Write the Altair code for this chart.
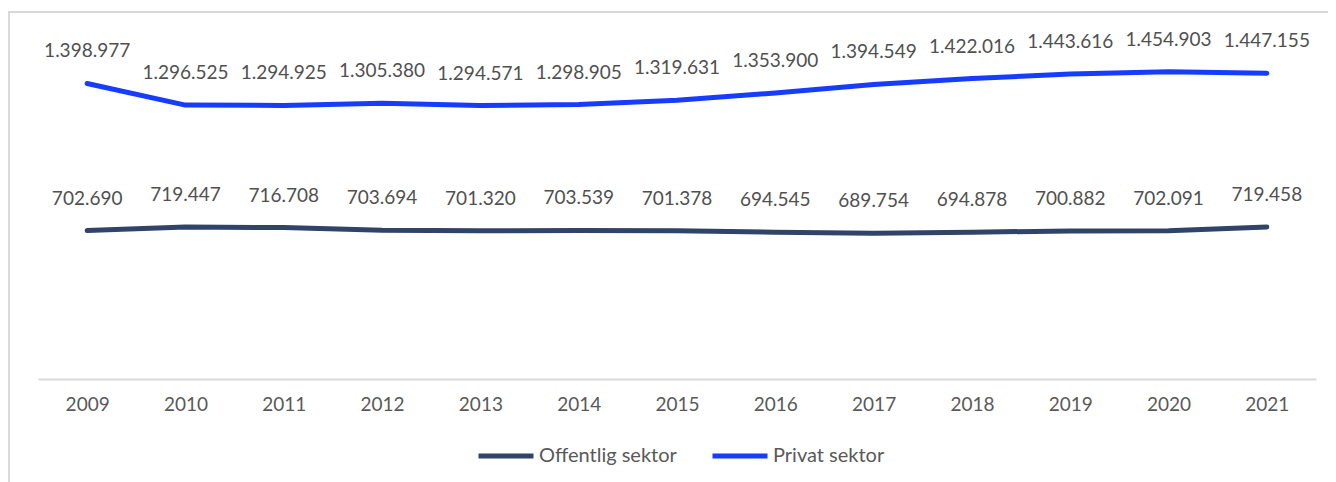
import altair as alt
import pandas as pd

years = ["2009", "2010", "2011", "2012", "2013", "2014", "2015", "2016", "2017", "2018", "2019", "2020", "2021"]
offentlig = [702690, 719447, 716708, 703694, 701320, 703539, 701378, 694545, 689754, 694878, 700882, 702091, 719458]
privat = [1398977, 1296525, 1294925, 1305380, 1294571, 1298905, 1319631, 1353900, 1394549, 1422016, 1443616, 1454903, 1447155]
series_names = ["Offentlig sektor", "Privat sektor"]
series_colors = ["#2f4468", "#163cff"]

rows = []
for name, vals in zip(series_names, [offentlig, privat]):
    for y, v in zip(years, vals):
        rows.append({"year": y, "value": v, "series": name, "label": f"{v:,}".replace(",", ".")})
df = pd.DataFrame(rows)

FONT = "Lato"
W, H = 1278, 338

x_enc = alt.X("year:O", sort=years, scale=alt.Scale(type="point", padding=0.5),
              axis=alt.Axis(title=None, labelAngle=0, ticks=False, domainColor="#d9d9d9", domainWidth=2,
                            labelFontSize=19, labelColor="#595959", labelFont=FONT, labelPadding=16, grid=False))
y_enc = alt.Y("value:Q", scale=alt.Scale(domain=[0, 1600000]), axis=None)

lines = alt.Chart(df).mark_line(strokeWidth=5, strokeCap="round", strokeJoin="round").encode(
    x=x_enc, y=y_enc,
    color=alt.Color("series:N", scale=alt.Scale(domain=series_names, range=series_colors),
                    legend=alt.Legend(title=None, orient="none", direction="horizontal",
                                      legendX=438, legendY=385, symbolType="stroke", symbolSize=3025,
                                      symbolStrokeWidth=5, labelFontSize=20, labelFont=FONT,
                                      labelColor="#595959", columnPadding=25, labelOffset=3)),
)

labels = alt.Chart(df).mark_text(fontSize=19, font=FONT, color="#505050", baseline="alphabetic", dy=-26).encode(
    x=alt.X("year:O", sort=years), y=y_enc, text="label:N", detail="series:N"
)

border = alt.Chart(pd.DataFrame({"a": [0]})).mark_rect(fill=None, stroke="#d9d9d9", strokeWidth=2, clip=False).encode(
    x=alt.value(-29), x2=alt.value(W + 100), y=alt.value(-29), y2=alt.value(H + 200)
)

chart = alt.layer(border, lines, labels).properties(
    width=W, height=H,
    autosize=alt.AutoSizeParams(type="none"),
    padding={"left": 30, "top": 33, "right": 12, "bottom": 103},
).configure(font=FONT).configure_view(stroke=None, strokeWidth=0)

chart.save("out.html", embed_options={"renderer": "svg", "actions": False})
